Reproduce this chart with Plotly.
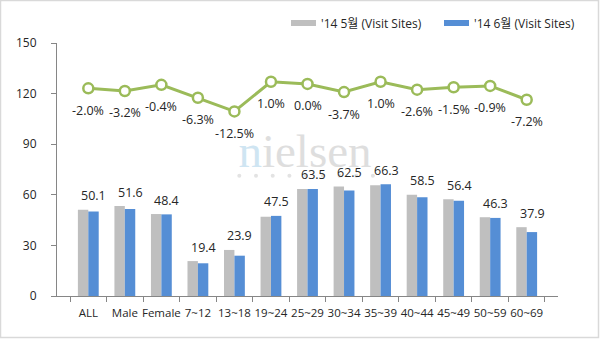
import plotly.graph_objects as go

categories = ["ALL", "Male", "Female", "7~12", "13~18", "19~24", "25~29",
              "30~34", "35~39", "40~44", "45~49", "50~59", "60~69"]
may_values = [51.1, 53.3, 48.6, 20.7, 27.3, 47.0, 63.5, 64.9, 65.6, 60.1, 57.3, 46.7, 40.8]
jun_values = [50.1, 51.6, 48.4, 19.4, 23.9, 47.5, 63.5, 62.5, 66.3, 58.5, 56.4, 46.3, 37.9]
growth_pct = [-2.0, -3.2, -0.4, -6.3, -12.5, 1.0, 0.0, -3.7, 1.0, -2.6, -1.5, -0.9, -7.2]
series_names = ["'14 5월 (Visit Sites)", "'14 6월 (Visit Sites)"]

GRAY = "#BFBFBF"
BLUE = "#558ED5"
GREEN = "#9BBB59"
FONT = "Open Sans, Noto Sans CJK KR, sans-serif"
TXT = "#262626"

fig = go.Figure()
fig.add_trace(go.Bar(x=categories, y=may_values, name=series_names[0],
                     marker=dict(color=GRAY, line=dict(width=0))))
fig.add_trace(go.Bar(x=categories, y=jun_values, name=series_names[1],
                     marker=dict(color=BLUE, line=dict(width=0))))
fig.add_trace(go.Scatter(x=categories, y=growth_pct, yaxis="y2", mode="lines+markers",
                         line=dict(color=GREEN, width=3),
                         marker=dict(symbol="circle", size=10, color="white",
                                     line=dict(color=GREEN, width=2.5)),
                         showlegend=False))

L = 57; W = 501; T = 43; H = 253
def px(xp): return (xp - L) / W
def py(yp): return (T + H - yp) / H

annotations = []
shapes = []
# watermark (drawn below the data)
shapes.append(dict(type="rect", xref="paper", yref="paper", x0=px(230), x1=px(380),
                   y0=py(163), y1=py(129), line=dict(width=0), fillcolor="rgba(0,0,0,0)",
                   layer="below",
                   label=dict(text="<span style='color:#CFE5F2'>n</span>ielsen",
                              font=dict(family="Liberation Serif, DejaVu Serif, serif",
                                        size=47, color="#DEDEDE"),
                              textposition="middle center")))
for i in range(9):
    cx = 239.3 + i * 16.7
    shapes.append(dict(type="circle", xref="paper", yref="paper",
                       x0=px(cx - 2), x1=px(cx + 2), y0=py(177.7), y1=py(173.7),
                       fillcolor="#E3E3E3", line=dict(width=0), layer="below"))

for c, m, j in zip(categories, may_values, jun_values):
    annotations.append(dict(x=c, y=max(m, j), xref="x", yref="y", text=f"{j:.1f}",
                            showarrow=False, xshift=5.5, yshift=14, yanchor="middle",
                            font=dict(family=FONT, size=12.5, color=TXT)))
for c, g in zip(categories, growth_pct):
    annotations.append(dict(x=c, y=g, xref="x", yref="y2", text=f"{g:.1f}%",
                            showarrow=False, yshift=-22, yanchor="middle",
                            font=dict(family=FONT, size=12.5, color=TXT)))

# custom legend
leg_items = [(291, 316, GRAY, series_names[0], 319), (444, 469, BLUE, series_names[1], 472)]
for x0, x1, col, name, tx in leg_items:
    shapes.append(dict(type="rect", xref="paper", yref="paper", x0=px(x0), x1=px(x1),
                       y0=py(26), y1=py(20), fillcolor=col, line=dict(width=0)))
    annotations.append(dict(xref="paper", yref="paper", x=px(tx), y=py(23), text=name,
                            showarrow=False, xanchor="left", yanchor="middle",
                            font=dict(family=FONT, size=12, color=TXT)))
# outer border
shapes.append(dict(type="rect", xref="paper", yref="paper", x0=px(0.5), x1=px(598.5),
                   y0=py(337.5), y1=py(0.5), line=dict(color="#D9D9D9", width=1.5),
                   layer="below"))

fig.update_layout(
    width=600, height=339,
    margin=dict(l=L, r=600 - L - W, t=T, b=339 - T - H),
    paper_bgcolor="white", plot_bgcolor="white",
    barmode="group", bargap=0.43, bargroupgap=0,
    showlegend=False,
    font=dict(family=FONT, size=12, color=TXT),
    xaxis=dict(type="category", tickson="boundaries", ticks="outside", ticklen=5,
               tickcolor="#868686", showline=True, linecolor="#868686", linewidth=1,
               showgrid=False, ticklabelstandoff=6, tickangle=0,
               tickfont=dict(family=FONT, size=11.5, color=TXT)),
    yaxis=dict(range=[0, 150], dtick=30, ticks="outside", ticklen=5, tickcolor="#868686",
               showline=True, linecolor="#868686", linewidth=1, showgrid=False,
               zeroline=False, ticklabelstandoff=12,
               tickfont=dict(family=FONT, size=12, color=TXT)),
    yaxis2=dict(overlaying="y", range=[-96.4, 18.6], visible=False),
    annotations=annotations, shapes=shapes,
)

fig.write_html("out.html")
